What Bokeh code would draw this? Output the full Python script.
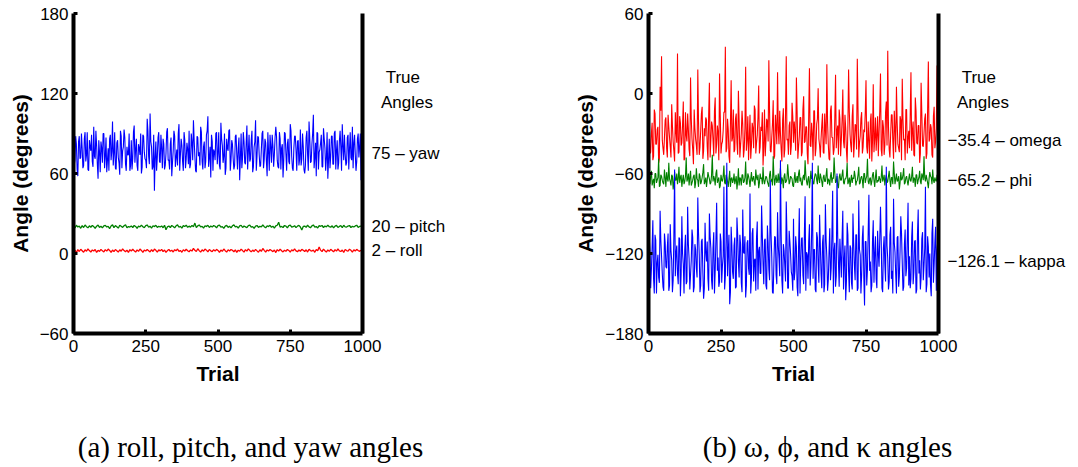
from bokeh.plotting import figure
from bokeh.models import LinearAxis, FixedTicker, Label
from bokeh.layouts import row, column
from bokeh.embed import file_html
from bokeh.resources import INLINE

# ---------------- data -------------
trial_fine = [2.5 * i for i in range(400)]     # 400 samples over the 1000 trials
trial = [5 * i for i in range(200)]            # 200 samples over the 1000 trials

yaw = [97,66,70,88,82,63,58,84,88,71,72,90,79,64,66,86,91,69,74,91, 63,62,85,80,77,89,69,65,95,73,71,92,81,67,56,85,76,61,84,79,
       68,90,90,64,73,87,61,70,79,62,86,89,70,77,99,66,75,91,64,63, 83,85,72,68,59,92,88,64,77,80,93,87,67,62,80,74,74,90,62,66,
       85,63,71,91,96,68,78,86,66,62,82,79,74,90,60,65,89,88,76,71, 70,64,101,92,73,67,105,84,80,63,65,89,47,72,84,62,72,87,91,69,
       68,89,79,64,86,82,63,66,75,91,94,70,70,63,82,87,58,68,77,92, 88,65,72,78,66,90,97,62,74,86,81,69,62,91,85,64,71,83,78,67,
       92,64,67,90,83,70,100,85,73,62,61,88,87,73,76,66,95,91,69,63, 80,84,64,69,89,92,103,65,72,80,57,89,84,62,78,76,70,90,91,67,
       75,91,66,63,98,86,81,68,73,90,59,64,86,79,77,92,93,62,70,85, 82,71,63,66,88,89,74,63,79,87,55,72,90,64,72,91,84,68,67,83,
       96,63,76,89,69,71,85,92,61,65,80,84,100,62,73,88,87,74,65,66, 78,90,92,64,71,86,83,69,58,91,76,62,89,80,68,89,81,65,74,87,
       95,88,70,65,64,91,86,63,79,82,57,70,91,90,75,62,82,86,69,67, 97,92,73,64,62,79,88,88,77,62,84,85,66,71,93,66,71,90,80,63,
       60,66,87,92,74,62,99,87,68,69,82,90,104,64,72,83,58,91,90,63, 76,78,83,89,65,65,94,86,79,62,71,91,56,70,86,64,73,88,88,67,
       67,90,92,63,77,85,63,68,84,92,80,62,97,81,70,89,75,66,68,87, 89,63,78,91,72,70,95,64,83,89,74,62,69,86,90,72,80,90,55,65]

pitch = [20.3, 19.1, 21.2, 19.8, 20.6, 18.9, 20.9, 19.5, 21.4, 20.1, 19.3, 20.8, 19.7, 21.0, 20.2, 18.8, 20.5, 21.3, 19.6, 20.4,
         19.2, 20.7, 21.1, 19.9, 20.3, 18.7, 20.6, 21.5, 19.4, 20.9, 20.1, 19.0, 21.2, 20.4, 19.6, 20.8, 21.6, 19.3, 20.2, 19.8,
         20.7, 19.5, 21.0, 20.3, 18.9, 20.6, 19.9, 21.3, 20.1, 19.4, 20.9, 21.4, 19.7, 20.5, 19.1, 20.8, 20.2, 21.1, 19.6, 20.4,
         19.9, 20.7, 19.3, 21.2, 17.8, 20.0, 20.6, 19.5, 21.0, 20.3, 19.2, 20.8, 21.5, 19.7, 20.4, 19.0, 20.9, 20.2, 21.3, 19.6,
         20.5, 19.8, 21.1, 20.1, 22.8, 19.4, 20.7, 21.4, 19.9, 20.3, 19.1, 20.8, 20.2, 21.2, 19.5, 20.6, 19.8, 21.0, 20.4, 19.3,
         20.9, 21.3, 19.7, 20.1, 18.8, 20.5, 21.1, 19.6, 20.4, 19.2, 20.8, 21.5, 19.9, 20.3, 19.0, 20.7, 21.2, 19.5, 20.6, 20.0,
         19.4, 20.9, 21.3, 19.8, 20.2, 18.9, 20.6, 21.0, 19.6, 20.4, 19.9, 21.4, 20.1, 19.3, 20.8, 20.2, 21.1, 19.7, 20.5, 19.0,
         20.7, 21.2, 23.4, 19.8, 20.3, 19.5, 21.0, 20.6, 19.2, 20.9, 21.3, 19.7, 20.1, 20.8, 19.4, 20.5, 21.1, 19.9, 17.6, 20.3,
         20.6, 19.6, 21.2, 20.0, 19.3, 20.7, 21.4, 19.8, 20.2, 19.1, 20.9, 20.4, 21.0, 19.5, 20.6, 19.9, 21.3, 20.1, 19.7, 20.8,
         19.2, 20.5, 21.1, 19.6, 20.3, 20.9, 19.4, 21.2, 20.0, 19.8, 20.6, 21.0, 19.5, 20.4, 19.9, 20.7, 21.2, 19.6, 20.3, 20.5]

roll = [1.0, 2.6, 0.7, 2.9, 1.5, 3.2, 2.1, 0.9, 2.8, 1.7, 3.4, 2.2, 1.1, 2.7, 1.9, 3.0, 0.8, 2.4, 1.6, 3.1,
        2.0, 1.2, 2.9, 1.8, 3.3, 2.3, 0.9, 2.6, 1.4, 3.0, 2.1, 1.0, 2.8, 1.7, 3.5, 2.2, 1.3, 2.5, 0.8, 2.9,
        1.9, 3.2, 2.0, 1.1, 2.7, 1.6, 3.4, 2.3, 0.9, 2.6, 1.8, 3.0, 2.1, 1.2, 2.9, 1.5, 3.3, 2.4, 1.0, 2.7,
        2.0, 3.1, 1.4, 2.6, 0.8, 2.2, 3.0, 1.7, 2.5, 1.1, 2.9, 2.0, 3.4, 1.6, 2.3, 0.9, 2.8, 1.9, 3.2, 2.1,
        1.3, 2.7, 1.8, 3.9, 2.4, 1.5, 3.6, 2.2, 1.0, 2.8, 1.7, 3.3, 2.5, 1.2, 3.0, 2.0, 1.4, 2.9, 1.8, 3.1,
        2.3, 0.9, 2.6, 1.6, 3.4, 2.1, 1.1, 2.8, 1.9, 3.0, 2.4, 1.3, 2.7, 0.8, 2.5, 1.7, 3.2, 2.2, 1.0, 2.9,
        1.8, 3.5, 2.3, 1.2, 2.6, 1.5, 3.1, 2.0, 0.9, 2.8, 1.6, 3.8, 2.4, 1.1, 2.7, 1.9, 3.0, 2.2, 1.4, 2.6,
        0.7, 2.9, 1.8, 3.3, 2.1, 1.2, 2.5, 1.6, 3.0, 2.3, 1.0, 2.8, 1.9, 3.4, 2.0, 1.3, 2.6, 1.7, 3.1, 2.4,
        1.5, 2.8, 1.1, 3.2, 2.2, 1.8, 2.6, 0.9, 3.0, 2.0, 4.9, 2.5, 1.4, 3.3, 2.1, 1.0, 2.7, 1.6, 3.1, 2.3,
        1.2, 2.9, 1.8, 3.4, 2.0, 1.5, 2.6, 0.8, 3.0, 2.2, 1.7, 3.2, 2.4, 1.1, 2.8, 1.9, 3.1, 2.3, 1.6, 2.5]

omega = [22,-18,-45,-44,-30,-22,-50,-47,-12,-15,-38,-38,-27,-25,-52,-49,5,-13,28,-35, -41,-46,-33,-20,-18,-41,-48,-16,-25,-33,-40,-48,-8,-24,-36,-43,-51,-14,-29,-37,
         30,-45,-44,-17,-22,-39,-37,-23,-6,-50,-49,-14,-31,-36,-15,-27,-42,-47,12,-19, -34,-42,-53,-12,-26,-34,-39,-46,18,-21,-46,-40,-28,-15,-10,-49,-43,-26,-32,-18,
         -20,-40,-50,-16,8,-48,-35,-21,-24,-35,-47,-13,-3,-45,-38,-24,-29,-50,15,-17, -45,-38,-36,-28,-14,-14,35,-44,-41,-19,-27,-47,-52,-23,10,-36,-33,-12,-44,-42,
         -19,-15,-37,-46,2,-20,-48,-39,-30,-13,-23,-48,-42,-26,20,-43,-35,-17,-50,-34, -16,-49,-39,-22,-26,-41,-9,-12,-45,-37,-31,-18,6,-45,-40,-25,-28,-14,-54,-40,
         -12,-47,-36,-19,-21,-36,25,-14,-43,-44,-33,-23,-5,-49,-47,-16,-26,-38,16,-27, -38,-13,-30,-42,-51,-20,-11,-48,-42,-15,28,-35,-34,-46,-24,-21,-46,-39,-7,-17,
         -37,-21,-29,-43,12,-14,-49,-40,-32,-18,-18,-47,-44,-12,-2,-37,-36,-25,-25,-45, -53,-16,19,-39,-40,-22,-30,-50,-13,-13,-47,-41,-23,-19,4,-34,-39,-48,-34,-24,
         -15,-44,-45,-15,-27,-38,22,-22,-38,-49,-50,-13,-9,-33,-33,-46,-42,-18,14,-41, -28,-24,-46,-12,-19,-47,-35,-20,3,-36,-41,-16,-26,-43,-52,-26,18,-14,-31,-39,
         -44,-17,-8,-48,-37,-23,-24,-42,26,-12,-48,-37,-32,-19,-14,-45,-40,-27,-29,-14, 10,-40,-45,-21,-36,-49,-21,-15,-51,-35,7,-44,-34,-18,-43,-31,-17,-47,-30,-13,
         15,-42,-47,-20,-25,-46,-39,-14,-6,-39,32,-25,-42,-48,-31,-16,-16,-36,-49,-13, -27,-44,5,-22,-38,-41,-44,-17,-20,-50,11,-19,-35,-34,-50,-12,-12,-45,-33,-28,
         -41,-16,16,-43,-28,-21,-46,-47,-3,-13,-37,-38,-24,-24,-52,-45,8,-15,-39,-40, -30,-19,-15,-49,-45,-12,24,-36,-34,-23,-26,-46,-48,-17,-10,-41,-36,-26,21,-14]

phi = [-63,-66,-68,-62,-58,-69,-66,-64,-71,-60,-60,-67,-65,-63,-49,-70,-69,-61,-62,-65, -67,-68,-57,-63,-70,-59,-64,-66,-52,-64,-66,-69,-61,-62,-72,-67,-59,-65,-65,-60,
       -68,-64,-55,-67,-63,-61,-70,-65,-61,-68,-66,-62,-48,-66,-64,-60,-69,-63,-58,-69, -67,-65,-62,-61,-71,-67,-56,-64,-65,-70,-60,-62,-68,-66,-63,-59,-53,-68,-66,-63,
       -70,-65,-59,-62,-64,-68,-67,-61,-46,-66,-62,-64,-69,-60,-57,-67,-65,-63,-71,-69, -61,-65,-66,-62,-54,-67,-68,-61,-63,-66,-70,-64,-58,-70,-64,-63,-67,-65,-60,-68,
       -65,-62,-72,-66,-56,-69,-63,-64,-69,-61,-61,-67,-66,-63,-51,-68,-68,-60,-62,-65, -70,-64,-59,-66,-64,-62,-67,-69,-57,-63,-65,-61,-71,-67,-60,-64,-63,-68,-55,-65,
       -68,-65,-62,-63,-66,-68,-70,-61,-58,-66,-64,-69,-47,-62,-69,-64,-61,-67,-65,-60, -67,-63,-56,-68,-63,-65,-71,-62,-60,-67,-66,-64,-53,-61,-68,-66,-62,-63,-64,-69,
       -70,-64,-59,-67,-65,-62,-67,-60,-57,-66,-63,-68,-69,-63,-61,-65,-50,-61,-66,-69, -64,-62,-71,-66,-58,-64,-62,-67,-68,-63,-60,-61,-65,-68,-54,-64,-67,-60,-63,-66,
       -70,-63,-61,-66,-66,-61,-56,-68,-64,-65,-69,-62,-59,-67,-63,-64,-48,-60,-67,-66, -62,-69,-71,-63,-60,-65,-65,-61,-57,-67,-68,-64,-64,-62,-52,-68,-66,-63,-70,-65,
       -61,-67,-63,-64,-58,-62,-69,-66,-65,-61,-55,-68,-67,-63,-62,-65,-71,-60,-60,-67, -64,-62,-49,-66,-68,-64,-63,-69,-66,-61,-59,-65,-70,-63,-57,-67,-65,-66,-62,-64,
       -67,-63,-54,-66,-64,-61,-69,-64,-61,-67,-66,-62,-58,-65,-70,-63,-63,-68,-51,-60, -68,-64,-60,-66,-65,-62,-72,-67,-59,-65,-64,-61,-56,-68,-67,-63,-62,-66,-69,-64,
       -60,-65,-66,-62,-55,-67,-63,-64,-70,-61,-61,-68,-65,-63,-58,-66,-68,-60,-62,-65, -47,-63,-66,-61,-64,-67,-71,-64,-59,-62,-63,-68,-57,-65,-67,-63,-65,-66,-61,-62]

kappa = [-140,-108,-118,-146,-132,-115,-95,-139,-150,-106,-110,-150,-127,-121,-138,-142,-88,-110,-122,-135, -145,-148,-105,-112,-130,-131,-115,-105,-148,-144,-98,-118,-125,-149,-140,-107,-57,-137,-120,-114,
         -135,-143,-108,-109,-152,-136,-92,-120,-128,-150,-117,-106,-143,-141,-85,-113,-124,-147,-136,-125, -102,-108,-149,-145,-113,-117,-131,-138,-78,-105,-121,-149,-144,-111,-109,-134,-154,-146,-97,-119,
         -126,-111,-139,-148,-90,-107,-116,-140,-147,-116,-104,-150,-133,-109,-82,-133,-123,-145,-141,-105, -111,-142,-129,-122,-70,-147,-137,-110,-52,-137,-119,-106,-158,-149,-100,-114,-134,-139,-114,-108,
         -146,-145,-93,-106,-127,-138,-106,-113,-142,-149,-87,-119,-120,-107,-153,-144,-112,-110,-131,-136, -75,-150,-138,-105,-101,-141,-125,-124,-148,-108,-96,-147,-118,-115,-135,-135,-84,-106,-128,-143,
         -110,-109,-144,-147,-99,-112,-132,-140,-65,-105,-122,-149,-150,-126,-107,-108,-136,-143,-89,-114, -124,-137,-50,-106,-140,-150,-113,-118,-129,-141,-81,-107,-146,-146,-103,-111,-121,-134,-137,-148,
         -94,-140,-133,-107,-115,-145,-152,-115,-86,-150,-126,-109,-108,-136,-143,-106,-77,-148,-119,-121, -139,-111,-98,-144,-130,-105,-52,-139,-117,-117,-147,-149,-104,-108,-128,-142,-91,-113,-135,-146,
         -112,-106,-149,-143,-83,-110,-123,-148,-140,-119,-101,-140,-131,-105,-73,-150,-118,-112,-145,-137, -60,-107,-127,-145,-109,-123,-138,-109,-88,-147,-125,-114,-155,-141,-97,-106,-134,-149,-114,-116,
         -142,-147,-90,-112,-129,-140,-106,-106,-148,-146,-80,-117,-121,-150,-136,-108,-99,-138,-159,-111, -111,-144,-132,-105,-76,-133,-126,-149,-144,-110,-95,-142,-120,-107,-139,-146,-103,-120,-130,-109,
         -85,-110,-146,-149,-116,-107,-128,-141,-55,-114,-124,-147,-141,-106,-100,-139,-133,-150,-79,-112, -119,-136,-150,-108,-107,-145,-137,-118,-92,-105,-127,-148,-145,-113,-102,-137,-131,-109,-82,-144,
         -122,-146,-139,-108,-96,-143,-134,-111,-110,-150,-147,-106,-87,-135,-125,-147,-138,-109,-104,-140, -129,-116,-70,-149,-143,-107,-115,-138,-120,-144,-152,-105,-94,-142,-128,-112,-100,-148,-118,-110]

x_ticks = [0, 250, 500, 750, 1000]
y_ticks_a = [-60, 0, 60, 120, 180]
y_ticks_b = [-180, -120, -60, 0, 60]
true_a = [75, 20, 2]
true_a_labels = ["75 – yaw", "20 – pitch", "2 – roll"]
true_b = [-35.4, -65.2, -126.1]
true_b_labels = ["−35.4 – omega", "−65.2 – phi", "−126.1 – kappa"]
header = ["\u00a0\u00a0\u00a0True", "\u00a0\u00a0Angles"]
header_a_y = [132, 113.25]
header_b_y = [12, -6.75]
caption_a = "(a) roll, pitch, and yaw angles"
caption_b = "(b) ω, ϕ, and κ angles"

SANS = "Liberation Sans"
SERIF = "Liberation Serif"


def fmt(v):
    return ("−" + str(-v)) if v < 0 else str(v)


def panel(y_range, y_ticks, series, true_vals, true_labels, head_y, left, right):
    p = figure(width=539, height=400, x_range=(0, 1000), y_range=y_range,
               output_backend="svg", toolbar_location=None,
               min_border_left=left, min_border_right=right,
               min_border_top=13, min_border_bottom=67)
    p.outline_line_color = None
    p.grid.visible = False
    p.background_fill_color = "white"
    p.border_fill_color = "white"

    for xs, ys, col, lw in series:
        p.line(xs, ys, line_color=col, line_width=lw)

    for ax in (p.xaxis[0], p.yaxis[0]):
        ax.axis_line_width = 4
        ax.axis_line_color = "black"
        ax.major_tick_in = 4
        ax.major_tick_out = 0
        ax.major_tick_line_width = 3
        ax.minor_tick_line_color = None
        ax.major_label_text_font = SANS
        ax.major_label_text_font_size = "17px"
        ax.major_label_text_color = "black"
        ax.axis_label_text_font = SANS
        ax.axis_label_text_font_style = "bold"
        ax.axis_label_text_font_size = "21px"
        ax.axis_label_text_color = "black"

    p.xaxis.ticker = FixedTicker(ticks=x_ticks)
    p.yaxis.ticker = FixedTicker(ticks=y_ticks)
    p.yaxis.major_label_overrides = {v: fmt(v) for v in y_ticks}
    p.xaxis.axis_label = "Trial"
    p.yaxis.axis_label = "Angle (degrees)"
    p.xaxis.major_label_standoff = 6
    p.yaxis.major_label_standoff = 5
    p.xaxis.axis_label_standoff = 7
    p.yaxis.axis_label_standoff = 5

    # right spine: true angles (and the "True Angles" heading)
    ticks = list(true_vals) + list(head_y)
    labels = list(true_labels) + header
    rax = LinearAxis(ticker=FixedTicker(ticks=ticks),
                     major_label_overrides={v: s for v, s in zip(ticks, labels)})
    rax.axis_line_width = 4
    rax.axis_line_color = "black"
    rax.major_tick_in = 0
    rax.major_tick_out = 0
    rax.minor_tick_line_color = None
    rax.major_label_text_font = SANS
    rax.major_label_text_font_size = "17px"
    rax.major_label_text_color = "black"
    rax.major_label_standoff = 9
    p.add_layout(rax, "right")
    return p


def caption_fig(text, cx):
    c = figure(width=539, height=67, x_range=(0, 539), y_range=(67, 0),
               output_backend="svg", toolbar_location=None,
               x_axis_type=None, y_axis_type=None, min_border=0)
    c.outline_line_color = None
    c.background_fill_color = "white"
    c.border_fill_color = "white"
    c.add_layout(Label(x=cx, y=46, text=text, text_align="center",
                       text_baseline="middle", text_font=SERIF,
                       text_font_size="29px", text_color="black"))
    return c


pa = panel((-60, 180), y_ticks_a,
           [(trial_fine, yaw, "#0000ff", 1.1), (trial, pitch, "#008000", 1.3),
            (trial, roll, "#ff0000", 1.3)],
           true_a, true_a_labels, header_a_y, 73, 177)
pb = panel((-180, 60), y_ticks_b,
           [(trial_fine, omega, "#ff0000", 1.1), (trial_fine, phi, "#008000", 1.1),
            (trial_fine, kappa, "#0000ff", 1.1)],
           true_b, true_b_labels, header_b_y, 109, 140)
ca = caption_fig(caption_a, 250)
cb = caption_fig(caption_b, 288)

layout = column(row(pa, pb), row(ca, cb))
open("out.html", "w").write(file_html(layout, INLINE))
